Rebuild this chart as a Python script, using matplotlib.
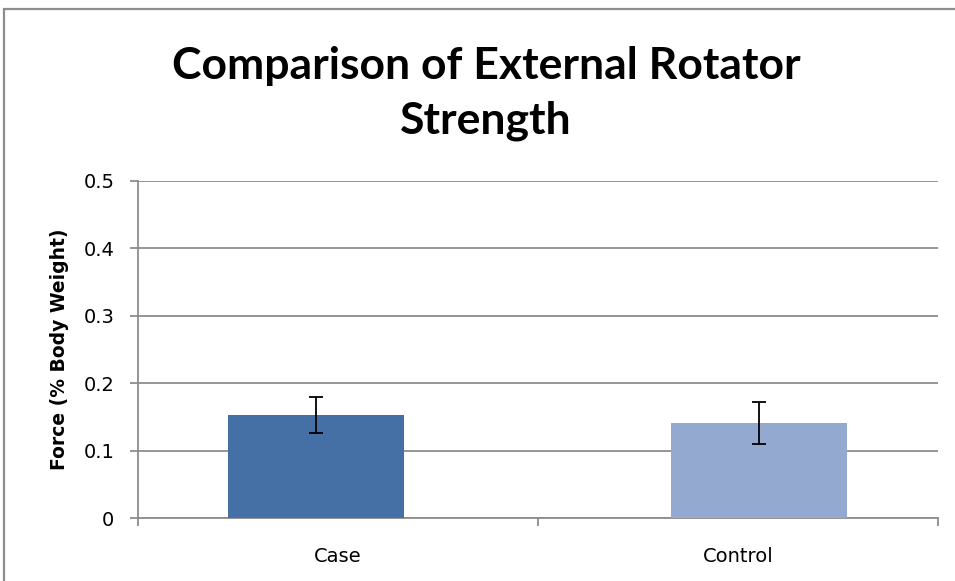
import matplotlib.pyplot as plt
from matplotlib.patches import Rectangle

# ==============================
# Data
# ==============================

groups = ['Case', 'Control']
force = [0.153, 0.141]
force_err = [0.027, 0.031]
bar_colors = ['#4470A5', '#93A9CF']
y_ticks = [0, 0.1, 0.2, 0.3, 0.4, 0.5]
y_tick_labels = ['0', '0.1', '0.2', '0.3', '0.4', '0.5']

# ==============================
# Plot
# ==============================

fig = plt.figure(figsize=(9.55, 5.81), dpi=100)
ax = fig.add_axes([0.1445, 0.1084, 0.8377, 0.5801])

# outer chart frame (Excel style, clipped at right/bottom)
fig.patches.append(Rectangle((4 / 955, -0.05), 1.2, 1 - 9 / 581 + 0.05,
                             transform=fig.transFigure, fill=False,
                             edgecolor='#8c8c8c', linewidth=1.6))

# each bar sits in its own slot of a 2-series cluster, so shifted off centre
x = list(range(len(groups)))
bar_shift = [-0.055, 0.053]
x_bars = [i + s for i, s in zip(x, bar_shift)]
ax.bar(x_bars, force, width=0.44, color=bar_colors, zorder=3)
ax.errorbar(x_bars, force, yerr=force_err, fmt='none', ecolor='black',
            elinewidth=1.3, capsize=5, capthick=1.3, zorder=4)

ax.set_xlim(-0.5, 1.5)
ax.set_ylim(0, 0.5)
ax.set_yticks(y_ticks)
ax.set_yticklabels(y_tick_labels)
ax.yaxis.grid(True, color='#8c8c8c', linewidth=1.3, zorder=0)

ax.set_xticks(x)
ax.set_xticklabels(groups)
ax.set_xticks([-0.5, 0.5, 1.5], minor=True)
ax.tick_params(axis='x', which='major', length=0, pad=21, labelsize=14)
ax.tick_params(axis='x', which='minor', length=6, color='#8c8c8c', width=1.3)
ax.tick_params(axis='y', length=6, color='#8c8c8c', width=1.3, pad=11, labelsize=14)

for s in ['top', 'right']:
    ax.spines[s].set_visible(False)
for s in ['left', 'bottom']:
    ax.spines[s].set_color('#8c8c8c')
    ax.spines[s].set_linewidth(1.3)

ax.set_ylabel('Force (% Body Weight)', fontsize=13.5, fontweight='bold', labelpad=10)

fig.text(0.509, 0.839, 'Comparison of External Rotator\nStrength', ha='center', va='center',
         fontsize=32, fontweight='bold', family='Lato', linespacing=1.45)

plt.savefig('out.png', dpi=100)
plt.close()
